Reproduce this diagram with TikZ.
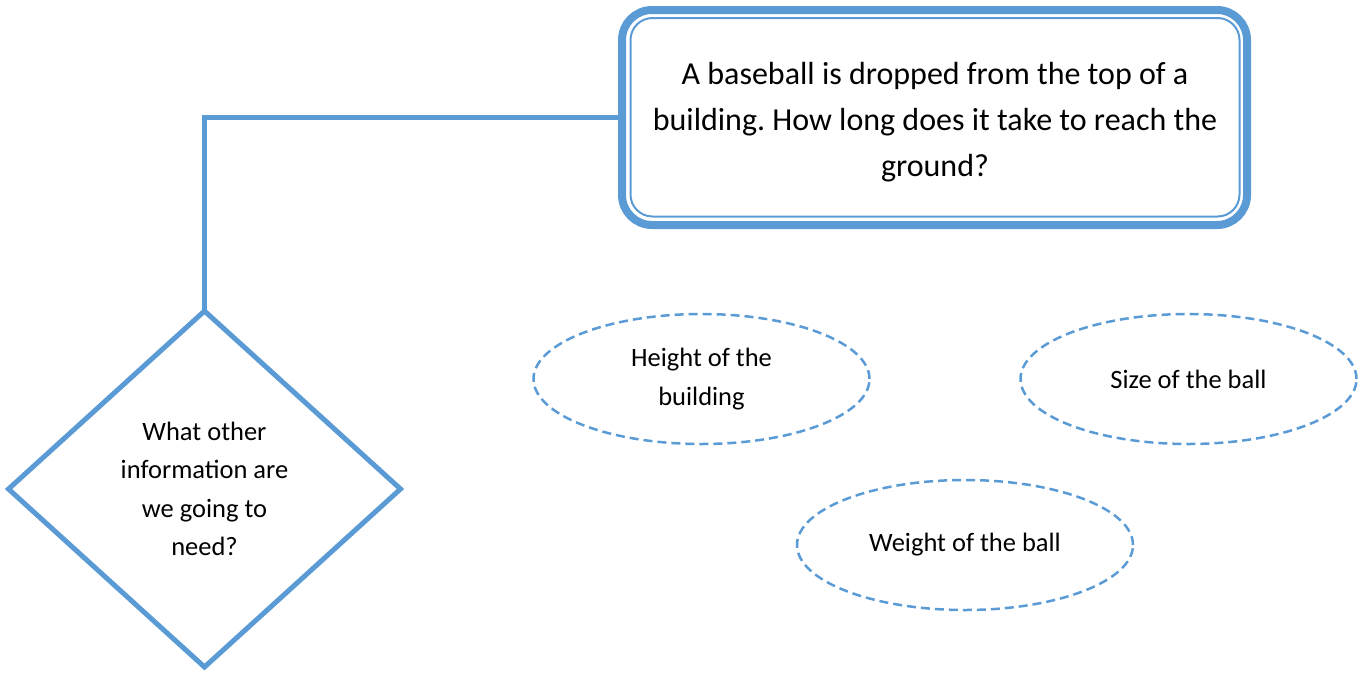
\documentclass[tikz,border=0pt]{standalone}
\usepackage{fontspec}
\setmainfont{Carlito}
\frenchspacing
\usetikzlibrary{shapes.geometric}
\definecolor{accent}{HTML}{5B9BD5}
\tikzset{
  mainbox/.style={draw=accent, line width=8pt, rounded corners=30pt, rectangle,
    minimum width=625pt, minimum height=215pt, inner sep=0pt, outer sep=0pt},
  maintext/.style={align=center, inner sep=0pt, font=\fontsize{32}{46}\selectfont},
  qdiamond/.style={draw=accent, line width=5pt, diamond, minimum width=392pt,
    minimum height=356pt, inner sep=0pt, outer sep=0pt, align=center,
    font=\fontsize{26.5}{38.5}\selectfont},
  answer/.style={draw=accent, line width=2.5pt, ellipse, dash pattern=on 9pt off 5pt,
    minimum width=336pt, minimum height=130pt, inner sep=0pt, align=center,
    font=\fontsize{26.5}{39}\selectfont},
  link/.style={draw=accent, line width=5pt}
}
\begin{document}
\begin{tikzpicture}[x=1pt,y=-1pt]
\useasboundingbox (0,0) rectangle (1364,672);
\node[mainbox] (box) at (934.5,117.5) {};
\draw[accent, line width=2pt, rounded corners=22pt]
  ([shift={(8.5pt,-8pt)}]box.north west) rectangle ([shift={(-7.5pt,8.5pt)}]box.south east);
\node[maintext] (boxtext) at (935,122) {A baseball is dropped from the top of a\\building. How long does it take to reach the\\ground?};
\node[qdiamond] (dia) at (204.5,489) {What other\\information are\\we going to\\need?};
\draw[link] (box.west) -| (dia.north);
\node[answer] (e1) at (701.5,379) {Height of the\\building};
\node[answer] (e2) at (1188.5,379) {Size of the ball};
\node[answer] (e3) at (965,545) {Weight of the ball};
\end{tikzpicture}
\end{document}
